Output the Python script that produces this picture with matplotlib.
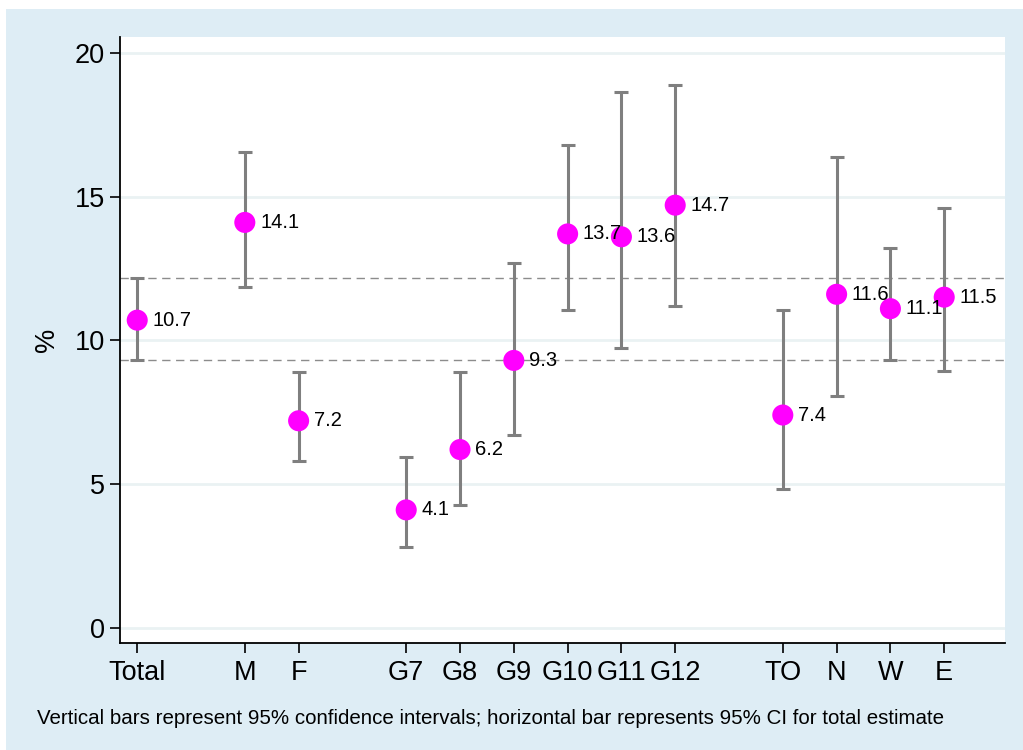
import matplotlib
matplotlib.use("Agg")
import matplotlib.pyplot as plt
from matplotlib.patches import Rectangle

plt.rcParams["font.family"] = ["Liberation Sans", "DejaVu Sans"]

groups = ["Total", "M", "F", "G7", "G8", "G9", "G10", "G11", "G12", "TO", "N", "W", "E"]
xpos = [0, 2, 3, 5, 6, 7, 8, 9, 10, 12, 13, 14, 15]
estimate = [10.7, 14.1, 7.2, 4.1, 6.2, 9.3, 13.7, 13.6, 14.7, 7.4, 11.6, 11.1, 11.5]
ci_low = [9.31, 11.85, 5.8, 2.81, 4.27, 6.7, 11.05, 9.73, 11.19, 4.82, 8.06, 9.31, 8.93]
ci_high = [12.16, 16.55, 8.9, 5.94, 8.9, 12.69, 16.79, 18.63, 18.88, 11.05, 16.37, 13.2, 14.6]
total_ci = [9.31, 12.16]

bg = "#deedf5"
fig = plt.figure(figsize=(10.23, 7.5), dpi=100, facecolor="white")
fig.patches.append(Rectangle((6 / 1023, 0), 1, 1 - 9 / 750, transform=fig.transFigure,
                             facecolor=bg, edgecolor="none", zorder=-10))

ax = fig.add_axes([120 / 1023, 107 / 750, 885 / 1023, 606 / 750])
ax.set_facecolor("white")

for y in [0, 5, 10, 15, 20]:
    ax.axhline(y, color="#eaf2f3", lw=2, zorder=0)

for y in total_ci:
    ax.axhline(y, color="#8c8c8c", lw=1, ls=(0, (6, 4)), zorder=1)

yerr = [[e - lo for e, lo in zip(estimate, ci_low)],
        [hi - e for e, hi in zip(estimate, ci_high)]]
ax.errorbar(xpos, estimate, yerr=yerr, fmt="none", ecolor="#7f7f7f",
            elinewidth=2.2, capsize=5, capthick=2.2, zorder=2)
ax.scatter(xpos, estimate, s=230, color="#ff00ff", edgecolor="none", zorder=3)

for x, e in zip(xpos, estimate):
    ax.annotate(f"{e:.1f}", (x, e), xytext=(11, 0), textcoords="offset points",
                va="center", ha="left", fontsize=14.5, zorder=4)

ax.set_xlim(-0.32, 16.13)
ax.set_ylim(-0.53, 20.55)
ax.set_xticks(xpos)
ax.set_xticklabels(groups)
ax.set_yticks([0, 5, 10, 15, 20])
ax.tick_params(axis="both", labelsize=19.5, length=7, width=1.2, colors="black")
ax.tick_params(axis="x", pad=5)
ax.tick_params(axis="y", pad=4)
for s in ["top", "right"]:
    ax.spines[s].set_visible(False)
for s in ["left", "bottom"]:
    ax.spines[s].set_linewidth(1.3)

fig.text(47 / 1023, 1 - 340 / 750, "%", rotation=90, fontsize=19.5, ha="center", va="center")
fig.text(37 / 1023, 1 - 719 / 750,
         "Vertical bars represent 95% confidence intervals; horizontal bar represents 95% CI for total estimate",
         fontsize=14.8, ha="left", va="center")

fig.savefig("out.png", dpi=100, facecolor=fig.get_facecolor())
